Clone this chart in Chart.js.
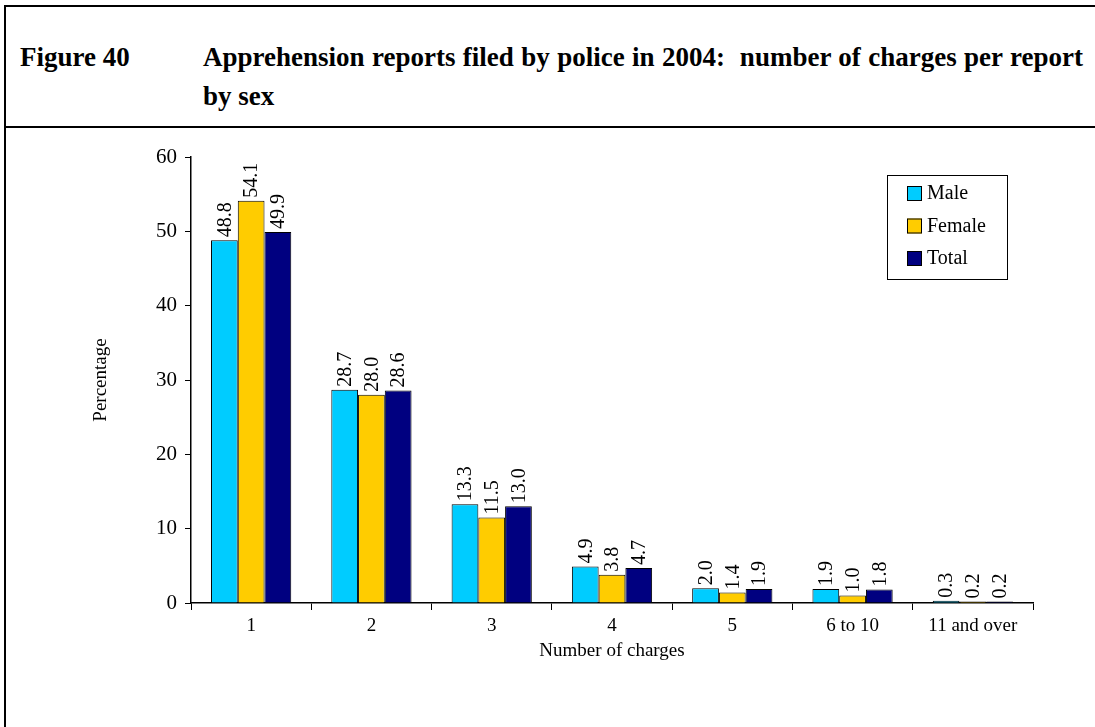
<!DOCTYPE html>
<html>
<head>
<meta charset="utf-8">
<script src="https://cdn.jsdelivr.net/npm/chart.js@4.4.1/dist/chart.umd.min.js"></script>
<style>
  html, body { margin: 0; padding: 0; background: #fff; }
  #page { position: relative; width: 1095px; height: 727px; overflow: hidden; }
  #frameLeft { position: absolute; left: 4px; top: 5px; width: 2px; height: 722px; background: #000; }
  #frameTop { position: absolute; left: 4px; top: 5px; width: 1091px; height: 2px; background: #000; }
  #divider { position: absolute; left: 4px; top: 126px; width: 1091px; height: 2px; background: #000; }
  .title { position: absolute; font-family: "Liberation Serif", "Times New Roman", serif; font-weight: bold; font-size: 27px; line-height: 39px; color: #000; white-space: nowrap; }
  #figNo { left: 20px; top: 38px; }
  #figLine1 { left: 203px; top: 38px; width: 880px; text-align: justify; text-align-last: justify; }
  #figLine2 { left: 203px; top: 77px; }
  canvas { position: absolute; left: 0; top: 0; }
</style>
</head>
<body>
<div id="page">
  <div id="frameLeft"></div>
  <div id="frameTop"></div>
  <div id="divider"></div>
  <div class="title" id="figNo">Figure 40</div>
  <div class="title" id="figLine1">Apprehension reports filed by police in 2004:&nbsp; number of charges per report</div>
  <div class="title" id="figLine2">by sex</div>
  <canvas id="chart" width="1095" height="727"></canvas>
</div>
<script>
// Number of charges per apprehension report, 2004 (% of reports)
const categories = ["1", "2", "3", "4", "5", "6 to 10", "11 and over"];
const male   = [48.8, 28.7, 13.3, 4.9, 2.0, 1.9, 0.3];
const female = [54.1, 28.0, 11.5, 3.8, 1.4, 1.0, 0.2];
const total  = [49.9, 28.6, 13.0, 4.7, 1.9, 1.8, 0.2];
const yTicks = [0, 10, 20, 30, 40, 50, 60];

const FONT = '"Liberation Serif", "Times New Roman", serif';

// Rotated value labels above each bar
const valueLabels = {
  id: 'valueLabels',
  afterDatasetsDraw(chart) {
    const ctx = chart.ctx;
    ctx.save();
    ctx.font = '20px ' + FONT;
    ctx.fillStyle = '#000';
    ctx.textAlign = 'left';
    ctx.textBaseline = 'middle';
    chart.data.datasets.forEach((ds, i) => {
      chart.getDatasetMeta(i).data.forEach((bar, j) => {
        ctx.save();
        ctx.translate(bar.x, bar.y - 3);
        ctx.rotate(-Math.PI / 2);
        ctx.fillText(ds.data[j].toFixed(1), 0, 1);
        ctx.restore();
      });
    });
    ctx.restore();
  }
};

// Boxed legend in the upper right of the plot
const boxLegend = {
  id: 'boxLegend',
  afterDraw(chart) {
    const ctx = chart.ctx;
    const bx = 887, by = 175, bw = 120, bh = 104;
    ctx.save();
    ctx.fillStyle = '#fff';
    ctx.fillRect(bx, by, bw, bh);
    ctx.strokeStyle = '#000';
    ctx.lineWidth = 1;
    ctx.strokeRect(bx + 0.5, by + 0.5, bw, bh);
    ctx.font = '20px ' + FONT;
    ctx.textBaseline = 'middle';
    ctx.textAlign = 'left';
    chart.data.datasets.forEach((ds, i) => {
      const cy = by + 18 + i * 32.5;
      ctx.fillStyle = ds.backgroundColor;
      ctx.fillRect(bx + 20, cy - 7, 15, 15);
      ctx.strokeRect(bx + 20.5, cy - 6.5, 14, 14);
      ctx.fillStyle = '#000';
      ctx.fillText(ds.label, bx + 40, cy + 1);
    });
    ctx.restore();
  }
};

new Chart(document.getElementById('chart'), {
  type: 'bar',
  data: {
    labels: categories,
    datasets: [
      { label: 'Male',   data: male,   backgroundColor: '#00CCFF' },
      { label: 'Female', data: female, backgroundColor: '#FFCC00' },
      { label: 'Total',  data: total,  backgroundColor: '#000080' }
    ].map(d => Object.assign(d, { borderColor: '#000', borderWidth: 1, borderSkipped: 'bottom' }))
  },
  options: {
    responsive: false,
    animation: false,
    devicePixelRatio: 1,
    layout: { padding: { left: 87, top: 157, right: 62, bottom: 60 } },
    datasets: { bar: { categoryPercentage: 0.667, barPercentage: 1.0 } },
    plugins: { legend: { display: false }, tooltip: { enabled: false } },
    scales: {
      x: {
        grid: { display: true, offset: true, drawOnChartArea: false, drawTicks: true, tickLength: 7, color: '#000', lineWidth: 1 },
        border: { display: true, color: '#000', width: 1.5 },
        ticks: { color: '#000', font: { family: FONT, size: 19, lineHeight: 1 }, padding: 7, maxRotation: 0, autoSkip: false },
        title: { display: true, text: 'Number of charges', color: '#000', font: { family: FONT, size: 19, lineHeight: 1 }, padding: { top: 0, bottom: 6 } },
        afterFit(scale) { scale.height = 727 - 603 - 60; }
      },
      y: {
        min: 0, max: 60,
        afterBuildTicks(scale) { scale.ticks = yTicks.map(v => ({ value: v })); },
        grid: { display: true, drawOnChartArea: false, drawTicks: true, tickLength: 6, color: '#000', lineWidth: 1 },
        border: { display: true, color: '#000', width: 1.5 },
        ticks: { color: '#000', font: { family: FONT, size: 21 }, padding: 8 },
        title: { display: true, text: 'Percentage', color: '#000', font: { family: FONT, size: 19 }, padding: { top: 3, bottom: 4 } },
        afterFit(scale) { scale.width = 191 - 87; }
      }
    }
  },
  plugins: [valueLabels, boxLegend]
});
</script>
</body>
</html>
